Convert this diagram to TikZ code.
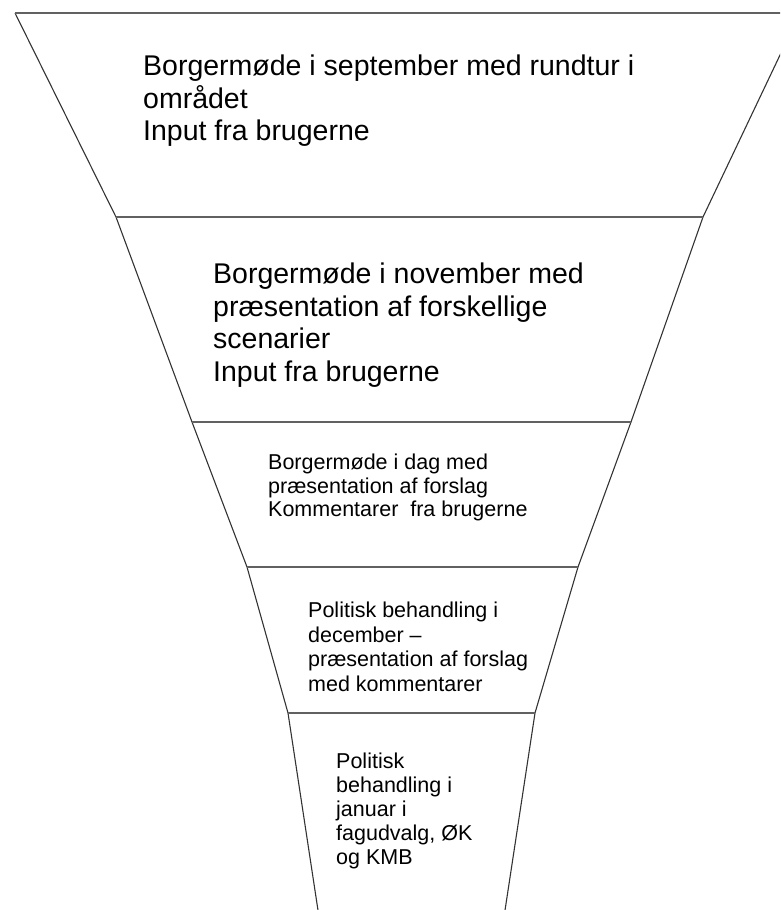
\documentclass[tikz,border=0pt]{standalone}
\usepackage{fontspec}
\setmainfont{Liberation Sans}
\begin{document}
\begin{tikzpicture}[x=1pt,y=-1pt,
  sideline/.style={draw=black!80,line width=1.1pt},
  divline/.style={draw=black!62,line width=1.9pt},
  bigtxt/.style={anchor=north west,inner sep=0pt,align=left,font=\fontsize{28.5}{32.5}\selectfont},
  smalltxt/.style={anchor=north west,inner sep=0pt,align=left,font=\fontsize{21.5}{24}\selectfont}]
\useasboundingbox (0,0) rectangle (780,910);
\clip (0,0) rectangle (780,910);
% corner coordinates
\coordinate (l0) at (15,13);   \coordinate (r0) at (800,13);
\coordinate (l1) at (116,217); \coordinate (r1) at (703,217);
\coordinate (l2) at (192,422); \coordinate (r2) at (631,422);
\coordinate (l3) at (247,567); \coordinate (r3) at (578,567);
\coordinate (l4) at (288,713); \coordinate (r4) at (535,713);
\coordinate (l5) at (321,930); \coordinate (r5) at (502,930);
% sides
\draw[sideline] (l0) -- (l1) -- (l2) -- (l3) -- (l4) -- (l5);
\draw[sideline] (r0) -- (r1) -- (r2) -- (r3) -- (r4) -- (r5);
% dividers
\draw[divline] (l0) -- (r0);
\draw[divline] (l1) -- (r1);
\draw[divline] (l2) -- (r2);
\draw[divline] (l3) -- (r3);
\draw[divline] (l4) -- (r4);
% texts
\node[bigtxt] (t1) at (143,55) {Borgermøde i september med rundtur i\\området\\Input fra brugerne};
\node[bigtxt] (t2) at (213,263) {Borgermøde i november med\\præsentation af forskellige\\scenarier\\Input fra brugerne};
\node[smalltxt,font=\fontsize{21.5}{23.5}\selectfont] (t3) at (268,454) {Borgermøde i dag med\\præsentation af forslag\\Kommentarer\ \ fra brugerne};
\node[smalltxt,font=\fontsize{21.5}{24.5}\selectfont] (t4) at (308,602) {Politisk behandling i\\december –\\præsentation af forslag\\med kommentarer};
\node[smalltxt] (t5) at (336,753) {Politisk\\behandling i\\januar i\\fagudvalg, ØK\\og KMB};
\end{tikzpicture}
\end{document}
